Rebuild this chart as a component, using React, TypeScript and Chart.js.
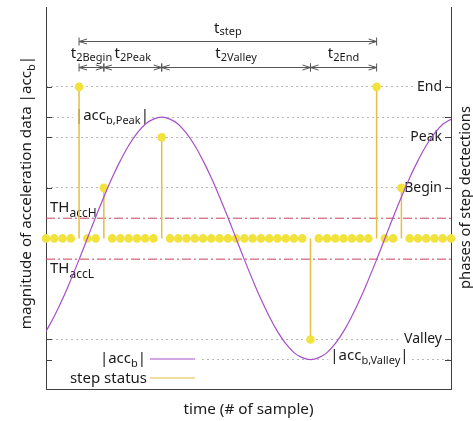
import React, { useEffect, useRef } from 'react';
import { Chart, registerables } from 'chart.js';

Chart.register(...registerables);

const FONT = '"Noto Sans", "DejaVu Sans", sans-serif';
const TEXT = '#1a1a1a';
const AXIS = '#404040';
const GRID = '#b8b8b8';
const ACC_COLOR = '#a650c8';
const STEM_COLOR = '#e3bf45';
const DOT_COLOR = '#f2e23c';
const TH_COLOR = '#c8405a';

// sample number (x)
const sampleIndex = [
  0, 1, 2, 3, 4, 5, 6, 7, 8, 9,
  10, 11, 12, 13, 14, 15, 16, 17, 18, 19,
  20, 21, 22, 23, 24, 25, 26, 27, 28, 29,
  30, 31, 32, 33, 34, 35, 36, 37, 38, 39,
  40, 41, 42, 43, 44, 45, 46, 47, 48, 49,
];

// |acc_b| per sample
const accMagnitude = [
  -1.84, -1.54, -1.2, -0.82, -0.42, 0.0, 0.42, 0.82, 1.2, 1.54,
  1.84, 2.08, 2.26, 2.36, 2.4, 2.36, 2.26, 2.08, 1.84, 1.54,
  1.2, 0.82, 0.42, 0.0, -0.42, -0.82, -1.2, -1.54, -1.84, -2.08,
  -2.26, -2.36, -2.4, -2.36, -2.26, -2.08, -1.84, -1.54, -1.2, -0.82,
  -0.42, 0.0, 0.42, 0.82, 1.2, 1.54, 1.84, 2.08, 2.26, 2.36,
];

// detected phase per sample: 0 none, 1 Begin, 2 Peak, 3 End, -2 Valley
const stepStatus = [
  0, 0, 0, 0, 3, 0, 0, 1, 0, 0,
  0, 0, 0, 0, 2, 0, 0, 0, 0, 0,
  0, 0, 0, 0, 0, 0, 0, 0, 0, 0,
  0, 0, -2, 0, 0, 0, 0, 0, 0, 0,
  3, 0, 0, 1, 0, 0, 0, 0, 0, 0,
];

const phaseTicks = [3, 2, 1, -2];
const phaseNames = ['End', 'Peak', 'Begin', 'Valley'];
const accPeak = 2.4;
const accValley = -2.4;
const thresholdHigh = 0.4;
const thresholdLow = -0.41;

// durations between phases (sample numbers)
const intervalFrom = [4, 7, 14, 32];
const intervalTo = [7, 14, 32, 40];
const intervalNames = ['2Begin', '2Peak', '2Valley', '2End'];
const stepFrom = 4;
const stepTo = 40;

const Y_MIN = -2.98;
const Y_MAX = 4.58;

type Run = { t: string; sub?: boolean };

function drawRuns(
  ctx: CanvasRenderingContext2D,
  runs: Run[],
  x: number,
  y: number,
  align: 'left' | 'center' | 'right',
  size = 15,
  subSize = 11,
  subShift = 4,
) {
  const fonts = runs.map((r) => `${r.sub ? subSize : size}px ${FONT}`);
  const widths = runs.map((r, i) => {
    ctx.font = fonts[i];
    return ctx.measureText(r.t).width;
  });
  const total = widths.reduce((a, b) => a + b, 0);
  let cx = align === 'left' ? x : align === 'center' ? x - total / 2 : x - total;
  const left = cx;
  ctx.textAlign = 'left';
  ctx.textBaseline = 'alphabetic';
  runs.forEach((r, i) => {
    ctx.font = fonts[i];
    ctx.fillText(r.t, cx, y + (r.sub ? subShift : 0));
    cx += widths[i];
  });
  return { left, right: left + total };
}

function measureRuns(ctx: CanvasRenderingContext2D, runs: Run[], size = 15, subSize = 11) {
  let w = 0;
  runs.forEach((r) => {
    ctx.font = `${r.sub ? subSize : size}px ${FONT}`;
    w += ctx.measureText(r.t).width;
  });
  return w;
}

function labelOnWhite(
  ctx: CanvasRenderingContext2D,
  runs: Run[],
  x: number,
  baseline: number,
) {
  const w = measureRuns(ctx, runs);
  ctx.fillStyle = '#ffffff';
  ctx.fillRect(x - 2, baseline - 13, w + 4, 20);
  ctx.fillStyle = TEXT;
  drawRuns(ctx, runs, x, baseline, 'left');
}

function spanArrow(ctx: CanvasRenderingContext2D, x1: number, x2: number, y: number) {
  const head = 8;
  const hw = 2.5;
  ctx.beginPath();
  ctx.moveTo(x1, y);
  ctx.lineTo(x2, y);
  ctx.moveTo(x1, y - 4);
  ctx.lineTo(x1, y + 4);
  ctx.moveTo(x2, y - 4);
  ctx.lineTo(x2, y + 4);
  ctx.moveTo(x1 + head, y - hw);
  ctx.lineTo(x1, y);
  ctx.lineTo(x1 + head, y + hw);
  ctx.moveTo(x2 - head, y - hw);
  ctx.lineTo(x2, y);
  ctx.lineTo(x2 - head, y + hw);
  ctx.stroke();
}

const stepOverlay = {
  id: 'stepOverlay',
  beforeDatasetsDraw(chart: any) {
    const { ctx, chartArea: ca, scales } = chart;
    const xs = scales.x;
    const ys = scales.y;
    ctx.save();

    // level labels of the extreme acceleration values
    labelOnWhite(ctx, [{ t: '|acc' }, { t: 'b,Peak', sub: true }, { t: '|' }],
      xs.getPixelForValue(3.5), ys.getPixelForValue(accPeak) + 2.5);
    labelOnWhite(ctx, [{ t: '|acc' }, { t: 'b,Valley', sub: true }, { t: '|' }],
      xs.getPixelForValue(34.4), ys.getPixelForValue(accValley) + 0.5);

    // threshold names
    ctx.fillStyle = TEXT;
    drawRuns(ctx, [{ t: 'TH' }, { t: 'accH', sub: true }], ca.left + 4,
      ys.getPixelForValue(thresholdHigh) - 6, 'left', 15, 12, 5);
    drawRuns(ctx, [{ t: 'TH' }, { t: 'accL', sub: true }], ca.left + 4,
      ys.getPixelForValue(thresholdLow) + 14, 'left', 15, 12, 5);

    // legend
    const l1 = ca.bottom - 30;
    const l2 = ca.bottom - 11;
    ctx.fillStyle = '#ffffff';
    ctx.fillRect(ca.left + 1, l1 - 10, 152, ca.bottom - l1 + 9);
    ctx.fillStyle = TEXT;
    drawRuns(ctx, [{ t: '|acc' }, { t: 'b', sub: true }, { t: '|' }], ca.left + 100, l1 + 4, 'right');
    drawRuns(ctx, [{ t: 'step status' }], ca.left + 101, l2 + 4.5, 'right');
    ctx.lineWidth = 1.2;
    ctx.strokeStyle = ACC_COLOR;
    ctx.beginPath();
    ctx.moveTo(ca.left + 104, l1);
    ctx.lineTo(ca.left + 149, l1);
    ctx.stroke();
    ctx.strokeStyle = STEM_COLOR;
    ctx.beginPath();
    ctx.moveTo(ca.left + 104, l2);
    ctx.lineTo(ca.left + 149, l2);
    ctx.stroke();

    ctx.restore();
  },
  afterDraw(chart: any) {
    const { ctx, chartArea: ca, scales } = chart;
    const xs = scales.x;
    const ys = scales.y;
    const ys2 = scales.y2;
    ctx.save();

    // inward tick marks on both vertical axes
    ctx.strokeStyle = AXIS;
    ctx.lineWidth = 1;
    const tickPix = [
      ...phaseTicks.map((v) => ys2.getPixelForValue(v)),
      ys.getPixelForValue(accPeak),
      ys.getPixelForValue(accValley),
    ];
    ctx.beginPath();
    tickPix.forEach((p) => {
      const py = Math.round(p) + 0.5;
      ctx.moveTo(ca.left, py);
      ctx.lineTo(ca.left + 6, py);
      ctx.moveTo(ca.right - 6, py);
      ctx.lineTo(ca.right, py);
    });
    ctx.stroke();

    // duration arrows
    ctx.strokeStyle = '#555555';
    ctx.lineWidth = 1;
    const rowStep = ca.top + 34.5;
    const rowPhase = ca.top + 60.5;
    const s1 = xs.getPixelForValue(stepFrom);
    const s2 = xs.getPixelForValue(stepTo);
    spanArrow(ctx, s1, s2, rowStep);
    ctx.fillStyle = TEXT;
    drawRuns(ctx, [{ t: 't' }, { t: 'step', sub: true }], (s1 + s2) / 2, rowStep - 9, 'center', 15, 11, 2);
    intervalFrom.forEach((from, i) => {
      const a = xs.getPixelForValue(from);
      const b = xs.getPixelForValue(intervalTo[i]);
      spanArrow(ctx, a, b, rowPhase);
      drawRuns(ctx, [{ t: 't' }, { t: intervalNames[i], sub: true }], (a + b) / 2, rowPhase - 10, 'center', 15, 11, 3);
    });

    // axis titles
    ctx.fillStyle = TEXT;
    drawRuns(ctx, [{ t: 'time (# of sample)' }], (ca.left + ca.right) / 2, ca.bottom + 25, 'center', 15.3);

    ctx.save();
    ctx.translate(31, (ca.top + ca.bottom) / 2 - 5.5);
    ctx.rotate(-Math.PI / 2);
    drawRuns(ctx, [{ t: 'magnitude of acceleration data |acc' }, { t: 'b', sub: true }, { t: '|' }], 0, 0, 'center', 15.2, 11, 4);
    ctx.restore();

    ctx.save();
    ctx.translate(470, (ca.top + ca.bottom) / 2 - 0.5);
    ctx.rotate(-Math.PI / 2);
    drawRuns(ctx, [{ t: 'phases of step dectections' }], 0, 0, 'center', 14.7);
    ctx.restore();

    ctx.restore();
  },
};

export default function App() {
  const canvasRef = useRef<HTMLCanvasElement | null>(null);

  useEffect(() => {
    const canvas = canvasRef.current;
    if (!canvas) return;

    const accPoints = sampleIndex.map((x, i) => ({ x, y: accMagnitude[i] }));
    const statusPoints = sampleIndex.map((x, i) => ({ x, y: stepStatus[i] }));
    const stemPoints = sampleIndex.map((x, i) => ({ x, y: stepStatus[i] === 0 ? null : stepStatus[i] }));
    const first = sampleIndex[0];
    const last = sampleIndex[sampleIndex.length - 1];

    const noEdgePadding = (s: any, width: number) => {
      s.width = width;
      s.paddingTop = 0;
      s.paddingBottom = 0;
    };

    const chart = new Chart(canvas, {
      type: 'line',
      data: {
        datasets: [
          {
            label: '|acc_b|',
            data: accPoints,
            yAxisID: 'y',
            borderColor: ACC_COLOR,
            borderWidth: 1.2,
            pointRadius: 0,
            tension: 0.4,
            order: 0,
          },
          {
            label: 'TH_accH',
            data: [{ x: first, y: thresholdHigh }, { x: last, y: thresholdHigh }],
            yAxisID: 'y',
            borderColor: TH_COLOR,
            borderWidth: 1,
            borderDash: [9, 3, 2, 3],
            pointRadius: 0,
            order: 4,
          },
          {
            label: 'TH_accL',
            data: [{ x: first, y: thresholdLow }, { x: last, y: thresholdLow }],
            yAxisID: 'y',
            borderColor: TH_COLOR,
            borderWidth: 1,
            borderDash: [9, 3, 2, 3],
            pointRadius: 0,
            order: 4,
          },
          {
            label: 'step status',
            data: statusPoints,
            yAxisID: 'y2',
            showLine: false,
            pointRadius: 4.3,
            pointBorderWidth: 0,
            pointBackgroundColor: DOT_COLOR,
            borderColor: DOT_COLOR,
            clip: false,
            order: 1,
          },
          {
            type: 'bar',
            label: 'step status stems',
            data: stemPoints,
            yAxisID: 'y2',
            backgroundColor: STEM_COLOR,
            barThickness: 1.5,
            grouped: false,
            inflateAmount: 0,
            order: 2,
          } as any,
        ],
      },
      options: {
        responsive: false,
        animation: false,
        devicePixelRatio: 1,
        layout: { padding: { left: 0, right: 0, top: 7, bottom: 0 } },
        plugins: {
          legend: { display: false },
          tooltip: { enabled: false },
        },
        scales: {
          x: {
            type: 'linear',
            min: first,
            max: last,
            offset: false,
            ticks: { display: false },
            grid: { display: false, drawTicks: false },
            border: { display: true, color: AXIS, width: 1 },
            afterFit: (s: any) => {
              s.height = 32;
              s.paddingLeft = 0;
              s.paddingRight = 0;
            },
          },
          y: {
            position: 'left',
            min: Y_MIN,
            max: Y_MAX,
            afterBuildTicks: (s: any) => {
              s.ticks = [accPeak, accValley].map((v) => ({ value: v }));
            },
            ticks: { display: false },
            grid: { color: GRID, lineWidth: 1, drawTicks: false },
            border: { display: true, color: AXIS, width: 1, dash: [2, 3] },
            afterFit: (s: any) => noEdgePadding(s, 46),
          },
          y2: {
            position: 'right',
            min: Y_MIN,
            max: Y_MAX,
            afterBuildTicks: (s: any) => {
              s.ticks = phaseTicks.map((v) => ({ value: v }));
            },
            ticks: {
              mirror: true,
              padding: -9,
              color: TEXT,
              font: { family: FONT, size: 14 },
              showLabelBackdrop: true,
              backdropColor: '#ffffff',
              backdropPadding: { top: 1, bottom: 1, left: 4, right: 3 },
              callback: (v: any) => {
                const k = phaseTicks.indexOf(Number(v));
                return k >= 0 ? phaseNames[k] : '';
              },
            },
            grid: { color: GRID, lineWidth: 1, drawTicks: false },
            border: { display: true, color: AXIS, width: 1, dash: [2, 3] },
            afterFit: (s: any) => noEdgePadding(s, 22),
          },
        },
      },
      plugins: [stepOverlay],
    } as any);

    return () => chart.destroy();
  }, []);

  return (
    <div style={{ position: 'fixed', left: 0, top: 0, width: 473, height: 421, background: '#ffffff' }}>
      <canvas ref={canvasRef} width={473} height={421} style={{ display: 'block', width: 473, height: 421 }} />
    </div>
  );
}
